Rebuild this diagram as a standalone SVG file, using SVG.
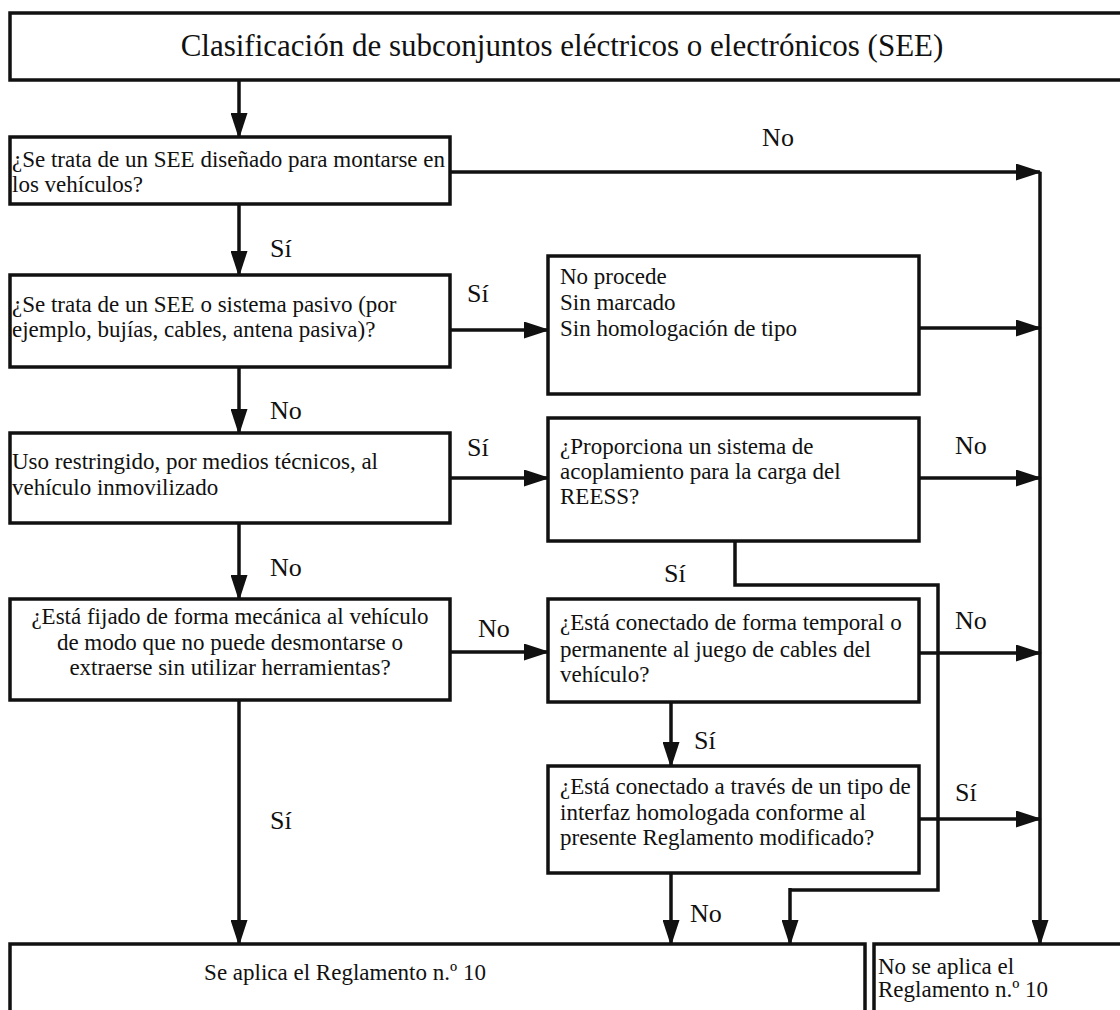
<svg xmlns="http://www.w3.org/2000/svg" width="1120" height="1010" viewBox="0 0 1120 1010">
<style>
text{font-family:'Liberation Serif','DejaVu Serif',serif;fill:#111}
.box{fill:#fff;stroke:#111;stroke-width:3.5}
.t{font-size:23px}
.ttl{font-size:31px}
.lb{font-size:26px}
.c{fill:none;stroke:#111;stroke-width:3.5}
.ca{fill:none;stroke:#111;stroke-width:3.5;marker-end:url(#ah)}
</style>
<defs>
<marker id="ah" markerWidth="26" markerHeight="17" refX="24" refY="8.5" orient="auto" markerUnits="userSpaceOnUse"><path d="M0,0 L26,8.5 L0,17 z" fill="#111"/></marker>
</defs>
<rect width="1120" height="1010" fill="#fff"/>
<g id="connectors">
<path class="ca" d="M239,80 V137"/>
<path class="ca" d="M450,172 H1040"/>
<path class="ca" d="M1040,172 V944"/>
<path class="ca" d="M239,204 V275"/>
<path class="ca" d="M450,330 H548"/>
<path class="ca" d="M919,328 H1040"/>
<path class="ca" d="M239,367 V433"/>
<path class="ca" d="M450,478 H548"/>
<path class="ca" d="M919,478 H1040"/>
<path class="c" d="M735,541 V585 H938 V890 H790"/>
<path class="ca" d="M790,888 V944"/>
<path class="ca" d="M239,523 V599"/>
<path class="ca" d="M450,652 H548"/>
<path class="ca" d="M919,653 H1040"/>
<path class="ca" d="M671,702 V766"/>
<path class="ca" d="M919,819 H1040"/>
<path class="ca" d="M671,873 V944"/>
<path class="ca" d="M239,700 V944"/>
<text class="lb" x="778" y="146" text-anchor="middle">No</text>
<text class="lb" x="270" y="257">Sí</text>
<text class="lb" x="467" y="302">Sí</text>
<text class="lb" x="270" y="419">No</text>
<text class="lb" x="467" y="456">Sí</text>
<text class="lb" x="955" y="454">No</text>
<text class="lb" x="664" y="582">Sí</text>
<text class="lb" x="270" y="576">No</text>
<text class="lb" x="478" y="637">No</text>
<text class="lb" x="955" y="629">No</text>
<text class="lb" x="694" y="749">Sí</text>
<text class="lb" x="955" y="801">Sí</text>
<text class="lb" x="690" y="922">No</text>
<text class="lb" x="270" y="829">Sí</text>
</g>
<g id="title">
<rect class="box" x="10" y="13" width="1120" height="67"/>
<text class="ttl" x="562" y="56" text-anchor="middle">Clasificación de subconjuntos eléctricos o electrónicos (SEE)</text>
</g>
<g id="q1">
<rect class="box" x="10" y="137" width="440" height="67"/>
<text class="t" x="12" y="167">¿Se trata de un SEE diseñado para montarse en</text>
<text class="t" x="12" y="192">los vehículos?</text>
</g>
<g id="q2">
<rect class="box" x="10" y="275" width="440" height="92"/>
<text class="t" x="12" y="312">¿Se trata de un SEE o sistema pasivo (por</text>
<text class="t" x="12" y="337">ejemplo, bujías, cables, antena pasiva)?</text>
</g>
<g id="noprocede">
<rect class="box" x="548" y="256" width="371" height="138"/>
<text class="t" x="560" y="284">No procede</text>
<text class="t" x="560" y="310">Sin marcado</text>
<text class="t" x="560" y="336">Sin homologación de tipo</text>
</g>
<g id="q3">
<rect class="box" x="10" y="433" width="440" height="90"/>
<text class="t" x="12" y="469">Uso restringido, por medios técnicos, al</text>
<text class="t" x="12" y="495">vehículo inmovilizado</text>
</g>
<g id="q5">
<rect class="box" x="548" y="418" width="371" height="123"/>
<text class="t" x="560" y="454">¿Proporciona un sistema de</text>
<text class="t" x="560" y="479">acoplamiento para la carga del</text>
<text class="t" x="560" y="504">REESS?</text>
</g>
<g id="q4">
<rect class="box" x="10" y="599" width="440" height="101"/>
<text class="t" x="230" y="624" text-anchor="middle">¿Está fijado de forma mecánica al vehículo</text>
<text class="t" x="230" y="650" text-anchor="middle">de modo que no puede desmontarse o</text>
<text class="t" x="230" y="675" text-anchor="middle">extraerse sin utilizar herramientas?</text>
</g>
<g id="q6">
<rect class="box" x="548" y="599" width="371" height="103"/>
<text class="t" x="560" y="630">¿Está conectado de forma temporal o</text>
<text class="t" x="560" y="657">permanente al juego de cables del</text>
<text class="t" x="560" y="682">vehículo?</text>
</g>
<g id="q7">
<rect class="box" x="548" y="766" width="371" height="107"/>
<text class="t" x="560" y="794">¿Está conectado a través de un tipo de</text>
<text class="t" x="560" y="820">interfaz homologada conforme al</text>
<text class="t" x="560" y="845">presente Reglamento modificado?</text>
</g>
<g id="aplica">
<rect class="box" x="10" y="944" width="855" height="80"/>
<text class="t" x="345" y="980" text-anchor="middle">Se aplica el Reglamento n.º 10</text>
</g>
<g id="noaplica">
<rect class="box" x="874" y="944" width="260" height="80"/>
<text class="t" x="878" y="974">No se aplica el</text>
<text class="t" x="878" y="997">Reglamento n.º 10</text>
</g>
</svg>
